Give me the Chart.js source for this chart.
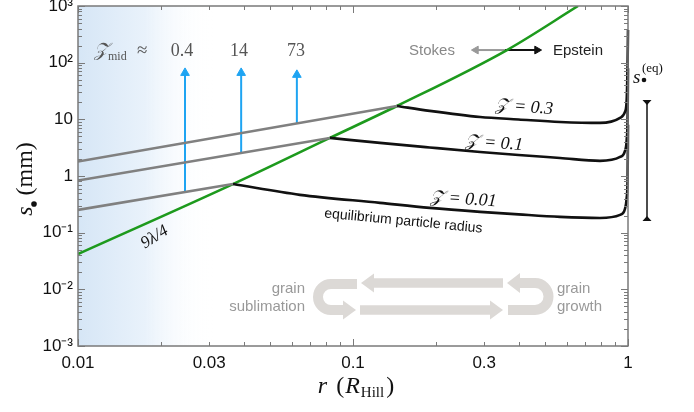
<!DOCTYPE html>
<html>
<head>
<meta charset="utf-8">
<script src="https://cdn.jsdelivr.net/npm/chart.js@4.4.1/dist/chart.umd.min.js"></script>
<style>
  html, body { margin: 0; padding: 0; background: #fff; }
  #wrap { width: 694px; height: 412px; }
</style>
</head>
<body>
<div id="wrap"><canvas id="c" width="694" height="412"></canvas></div>
<script>
// axis ticks
const xTickVals = [0.01, 0.03, 0.1, 0.3, 1];
const xTickLabels = ["0.01", "0.03", "0.1", "0.3", "1"];
const yTickVals = [0.001, 0.01, 0.1, 1, 10, 100, 1000];
const yTickLabels = ["10⁻³", "10⁻²", "10⁻¹", "1", "10", "10²", "10³"];

// 9λ/4 line
const lambdaR = [0.01, 0.0366, 0.0824, 0.1445, 0.363, 0.658];
const lambdaS = [0.042, 0.72, 4.7, 17.2, 167, 1000];

// Stokes branches (grey), Z = 0.3, 0.1, 0.01
const stokesR = [[0.01, 0.1445], [0.01, 0.0824], [0.01, 0.0366]];
const stokesS = [[1.8, 17.2], [0.83, 4.7], [0.252, 0.72]];

// Epstein branches (black)
const eps03R = [0.1445, 0.19, 0.29, 0.4, 0.566, 0.791, 0.936, 0.975, 0.989, 0.997, 1.0];
const eps03S = [17.2, 14.1, 11.0, 9.96, 9.0, 8.65, 10.6, 13.5, 22, 112, 378];
const eps01R = [0.0824, 0.1253, 0.19, 0.29, 0.4, 0.566, 0.791, 0.936, 0.975, 0.989, 0.997, 1.0];
const eps01S = [4.7, 3.84, 3.19, 2.66, 2.35, 2.08, 1.85, 2.17, 2.77, 4.3, 12, 80];
const eps001R = [0.0366, 0.0641, 0.1253, 0.19, 0.29, 0.4, 0.566, 0.791, 0.936, 0.975, 0.989, 0.997, 1.0];
const eps001S = [0.72, 0.465, 0.336, 0.274, 0.233, 0.21, 0.19, 0.182, 0.206, 0.263, 0.41, 1.05, 8];

// Z_mid arrows
const zmidLabels = ["0.4", "14", "73"];
const zmidR = [0.0245, 0.0392, 0.0625];
const zmidLow = [0.52, 2.55, 8.5];
const zmidHigh = [66, 66, 61];

// Stokes <-> Epstein arrow
const regimeR = [0.28, 0.357, 0.467];
const regimeS = 167;

// equilibrium range bar
const eqRange = [0.16, 22];

const pts = (rs, ss) => rs.map((r, i) => ({ x: r, y: ss[i] }));

const BLUE = "#1ea4f2", GREEN = "#1d9a1d", GREY = "#808080", BLACK = "#111";
const SERIF = "'Liberation Serif', 'DejaVu Serif', serif";
const SANS = "'Liberation Sans', Arial, sans-serif";
const CALZ = "𝒵";

const datasets = [];
stokesR.forEach((r, i) => datasets.push({
  data: pts(r, stokesS[i]), showLine: true, borderColor: GREY, borderWidth: 2.6, pointRadius: 0
}));
[[eps03R, eps03S], [eps01R, eps01S], [eps001R, eps001S]].forEach(([r, s]) => datasets.push({
  data: pts(r, s), showLine: true, borderColor: BLACK, borderWidth: 2.6, pointRadius: 0,
  cubicInterpolationMode: "monotone", clip: 3
}));
datasets.push({
  data: pts(lambdaR, lambdaS), showLine: true, borderColor: GREEN, borderWidth: 2.6, pointRadius: 0,
  cubicInterpolationMode: "monotone"
});
zmidR.forEach((r, i) => datasets.push({
  data: [{ x: r, y: zmidLow[i] }, { x: r, y: zmidHigh[i] }], showLine: true,
  borderColor: BLUE, borderWidth: 2, pointRadius: [0, 5], pointStyle: "triangle",
  pointBackgroundColor: BLUE, pointBorderColor: BLUE, pointBorderWidth: 1
}));
datasets.push({
  data: [{ x: regimeR[0], y: regimeS }, { x: regimeR[1], y: regimeS }], showLine: true,
  borderColor: "#999", borderWidth: 2, pointRadius: [4.5, 0], pointStyle: "triangle", pointRotation: -90,
  pointBackgroundColor: "#999", pointBorderColor: "#999", pointBorderWidth: 1
});
datasets.push({
  data: [{ x: regimeR[1], y: regimeS }, { x: regimeR[2], y: regimeS }], showLine: true,
  borderColor: BLACK, borderWidth: 2, pointRadius: [0, 4.5], pointStyle: "triangle", pointRotation: 90,
  pointBackgroundColor: BLACK, pointBorderColor: BLACK, pointBorderWidth: 1
});

function txt(ctx, s, x, y, font, color, align, rot) {
  ctx.save();
  ctx.font = font; ctx.fillStyle = color; ctx.textAlign = align || "left"; ctx.textBaseline = "alphabetic";
  ctx.translate(x, y);
  if (rot) ctx.rotate(rot * Math.PI / 180);
  ctx.fillText(s, 0, 0);
  ctx.restore();
}

function arrowHead(ctx, tipX, tipY, dir, len, half) {
  ctx.beginPath();
  ctx.moveTo(tipX, tipY);
  ctx.lineTo(tipX - dir * len, tipY - half);
  ctx.lineTo(tipX - dir * len, tipY + half);
  ctx.closePath();
  ctx.fill();
}

const deco = {
  id: "deco",
  beforeDatasetsDraw(chart) {
    const { ctx, chartArea: a } = chart;
    ctx.save();
    const g = ctx.createLinearGradient(a.left, 0, a.left + 135, 0);
    g.addColorStop(0, "rgb(214,230,246)");
    g.addColorStop(0.5, "rgb(233,242,251)");
    g.addColorStop(1, "rgba(255,255,255,0)");
    ctx.fillStyle = g;
    ctx.fillRect(a.left, a.top, 135, a.bottom - a.top);

    // grain cycle arrows
    const c = "#dcd9d6";
    ctx.strokeStyle = c; ctx.fillStyle = c; ctx.lineWidth = 9.5; ctx.lineCap = "butt";
    ctx.beginPath(); ctx.moveTo(373, 283); ctx.lineTo(503, 283); ctx.stroke();
    arrowHead(ctx, 361, 283, -1, 13, 9.5);
    ctx.beginPath(); ctx.moveTo(360, 310); ctx.lineTo(491, 310); ctx.stroke();
    arrowHead(ctx, 503, 310, 1, 13, 9.5);
    ctx.lineWidth = 10;
    ctx.beginPath(); ctx.moveTo(357, 284); ctx.lineTo(331, 284);
    ctx.arc(331, 297, 13, -Math.PI / 2, Math.PI / 2, true); ctx.lineTo(343, 310); ctx.stroke();
    arrowHead(ctx, 356, 310, 1, 13, 9.5);
    ctx.beginPath(); ctx.moveTo(519, 283); ctx.lineTo(535, 283);
    ctx.arc(535, 296.5, 13.5, -Math.PI / 2, Math.PI / 2, false); ctx.lineTo(508, 310); ctx.stroke();
    arrowHead(ctx, 507, 283, -1, 13, 10);
    ctx.restore();
  },
  afterDatasetsDraw(chart) {
    const { ctx } = chart;
    // Z_mid header
    txt(ctx, CALZ, 94, 56, "italic 19px " + SERIF, "#555");
    txt(ctx, "mid", 108, 60, "12px " + SERIF, "#555");
    txt(ctx, "≈", 137, 56, "19px " + SERIF, "#555");
    const zx = [182, 239, 296];
    zmidLabels.forEach((l, i) => txt(ctx, l, zx[i], 56, "18px " + SERIF, "#555", "center"));
    // regime labels
    txt(ctx, "Stokes", 432, 55, "15px " + SANS, "#888", "center");
    txt(ctx, "Epstein", 578, 55, "15px " + SANS, "#222", "center");
    // curve labels
    txt(ctx, CALZ + " = 0.3", 524, 112, "italic 18px " + SERIF, BLACK, "center", 4);
    txt(ctx, CALZ + " = 0.1", 494, 148, "italic 18px " + SERIF, BLACK, "center", 4);
    txt(ctx, CALZ + " = 0.01", 463, 204, "italic 18px " + SERIF, BLACK, "center", 4);
    txt(ctx, "equilibrium particle radius", 403, 225, "14px " + SANS, BLACK, "center", 5.5);
    txt(ctx, "9λ/4", 157, 241, "italic 17px " + SERIF, BLACK, "center", -32);
    // grain labels
    txt(ctx, "grain", 305, 293, "15px " + SANS, "#999", "right");
    txt(ctx, "sublimation", 305, 311, "15px " + SANS, "#999", "right");
    txt(ctx, "grain", 557, 293, "15px " + SANS, "#999", "left");
    txt(ctx, "growth", 557, 311, "15px " + SANS, "#999", "left");
  },
  afterDraw(chart) {
    const { ctx, chartArea: a, scales: { x: xs, y: ys } } = chart;
    ctx.save();
    ctx.strokeStyle = "#7a7a7a"; ctx.lineWidth = 1;
    // minor / major ticks on all sides
    for (let e = -2; e <= 0; e++) {
      for (let k = 1; k <= 9; k++) {
        const v = k * Math.pow(10, e);
        if (v > 1.0001) break;
        const p = Math.round(xs.getPixelForValue(v)) + 0.5;
        const len = k === 1 ? 7 : 4;
        ctx.beginPath();
        ctx.moveTo(p, a.bottom); ctx.lineTo(p, a.bottom - len);
        ctx.moveTo(p, a.top); ctx.lineTo(p, a.top + len);
        ctx.stroke();
      }
    }
    for (let e = -3; e <= 3; e++) {
      for (let k = 1; k <= 9; k++) {
        const v = k * Math.pow(10, e);
        if (v > 1000.1) break;
        const p = Math.round(ys.getPixelForValue(v)) + 0.5;
        const len = k === 1 ? 7 : 4;
        ctx.beginPath();
        ctx.moveTo(a.left, p); ctx.lineTo(a.left + len, p);
        ctx.moveTo(a.right, p); ctx.lineTo(a.right - len, p);
        ctx.stroke();
      }
    }
    ctx.lineWidth = 1.5;
    ctx.strokeRect(a.left, a.top, a.right - a.left, a.bottom - a.top);

    // equilibrium range bar
    const bx = a.right + 19;
    const yt = ys.getPixelForValue(eqRange[1]), yb = ys.getPixelForValue(eqRange[0]);
    ctx.strokeStyle = BLACK; ctx.fillStyle = BLACK; ctx.lineWidth = 1.5;
    ctx.beginPath(); ctx.moveTo(bx, yt); ctx.lineTo(bx, yb); ctx.stroke();
    ctx.beginPath(); ctx.moveTo(bx - 4.5, yt); ctx.lineTo(bx + 4.5, yt); ctx.lineTo(bx, yt + 5); ctx.closePath(); ctx.fill();
    ctx.beginPath(); ctx.moveTo(bx - 4.5, yb); ctx.lineTo(bx + 4.5, yb); ctx.lineTo(bx, yb - 5); ctx.closePath(); ctx.fill();
    ctx.restore();
    txt(ctx, "s", 633, 83, "italic 19px " + SERIF, BLACK);
    ctx.save(); ctx.fillStyle = BLACK; ctx.beginPath(); ctx.arc(644, 80, 2.3, 0, 2 * Math.PI); ctx.fill(); ctx.restore();
    txt(ctx, "(eq)", 642, 72, "13px " + SERIF, BLACK);

    // axis titles
    ctx.save();
    ctx.fillStyle = BLACK; ctx.textBaseline = "alphabetic";
    const f1 = "italic 24px " + SERIF, f2 = "24px " + SERIF, f3 = "15px " + SERIF;
    ctx.font = f1; const wr = ctx.measureText("r").width + 9;
    ctx.font = f2; const wp = ctx.measureText("(").width + 1;
    ctx.font = f1; const wR = ctx.measureText("R").width + 1;
    ctx.font = f3; const wH = ctx.measureText("Hill").width + 2;
    ctx.font = f2; const wc = ctx.measureText(")").width;
    let x0 = 356 - (wr + wp + wR + wH + wc) / 2;
    const by = 393;
    ctx.font = f1; ctx.fillText("r", x0, by); x0 += wr;
    ctx.font = f2; ctx.fillText("(", x0, by); x0 += wp;
    ctx.font = f1; ctx.fillText("R", x0, by); x0 += wR;
    ctx.font = f3; ctx.fillText("Hill", x0, by + 4); x0 += wH;
    ctx.font = f2; ctx.fillText(")", x0, by);

    ctx.translate(32, 176);
    ctx.rotate(-Math.PI / 2);
    ctx.font = f1; const ws = ctx.measureText("s").width;
    ctx.font = f2; const wm = ctx.measureText(" (mm)").width + 4;
    let t0 = -(ws + 7 + wm) / 2;
    ctx.font = f1; ctx.fillText("s", t0, 0); t0 += ws;
    ctx.beginPath(); ctx.arc(t0 + 2.5, 2, 2.8, 0, 2 * Math.PI); ctx.fill(); t0 += 11;
    ctx.font = f2; ctx.fillText("(mm)", t0, 0);
    ctx.restore();
  }
};

new Chart(document.getElementById("c"), {
  type: "scatter",
  data: { datasets },
  options: {
    responsive: false, animation: false, devicePixelRatio: 1,
    layout: { padding: { top: 6, right: 66, left: 0, bottom: 0 } },
    plugins: { legend: { display: false }, tooltip: { enabled: false } },
    scales: {
      x: {
        type: "logarithmic", min: 0.01, max: 1,
        grid: { display: false, drawTicks: false }, border: { display: false },
        afterBuildTicks: s => { s.ticks = xTickVals.map(v => ({ value: v })); },
        afterFit: s => { s.height = 66; s.paddingLeft = 0; s.paddingRight = 0; },
        ticks: {
          autoSkip: false, maxRotation: 0, padding: 7, color: "#111",
          font: { family: SANS, size: 17 },
          callback: (v) => { const i = xTickVals.findIndex(t => Math.abs(t - v) < 1e-9); return i >= 0 ? xTickLabels[i] : ""; }
        }
      },
      y: {
        type: "logarithmic", min: 0.001, max: 1000,
        grid: { display: false, drawTicks: false }, border: { display: false },
        afterBuildTicks: s => { s.ticks = yTickVals.map(v => ({ value: v })); },
        afterFit: s => { s.width = 78; s.paddingTop = 0; s.paddingBottom = 0; },
        ticks: {
          autoSkip: false, padding: 5, color: "#111",
          font: { family: SANS, size: 17 },
          callback: (v) => { const i = yTickVals.findIndex(t => Math.abs(t - v) / t < 1e-6); return i >= 0 ? yTickLabels[i] : ""; }
        }
      }
    }
  },
  plugins: [deco]
});
</script>
</body>
</html>
